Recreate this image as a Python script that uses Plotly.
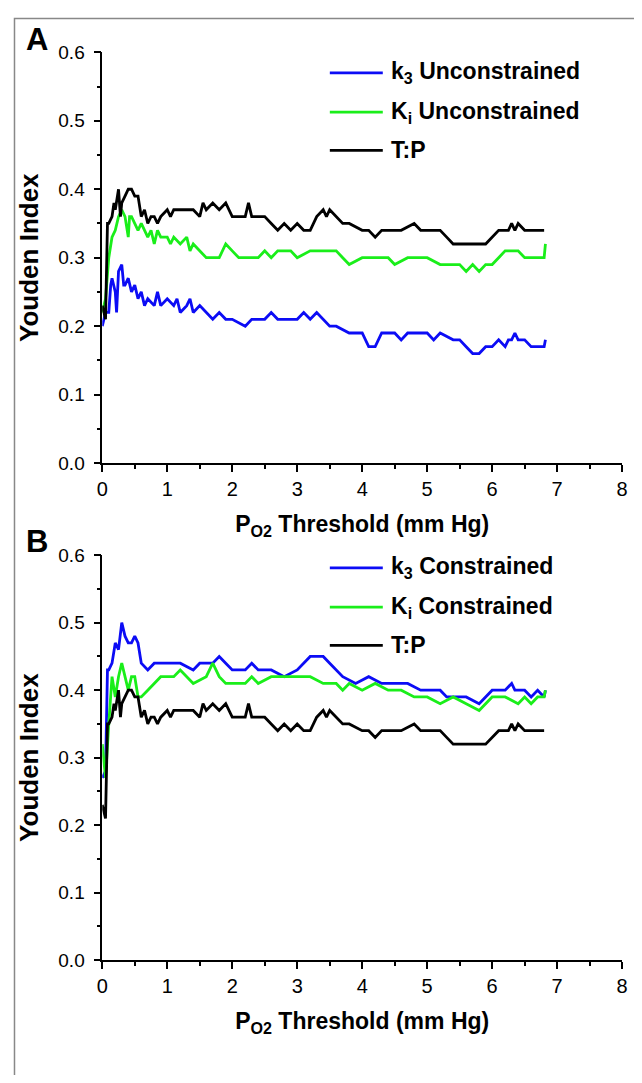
import plotly.graph_objects as go

# ---------------- data ----------------
# Panel A
a_k3_x = [0, 0.05, 0.1, 0.13, 0.15, 0.2, 0.22, 0.25, 0.3, 0.33, 0.35, 0.4, 0.45, 0.5, 0.55, 0.6, 0.65, 0.7, 0.8, 0.85,
          0.9, 1.0, 1.1, 1.15, 1.2, 1.3, 1.35, 1.4, 1.5, 1.6, 1.7, 1.8, 1.9, 2.0, 2.2, 2.3, 2.5, 2.6, 2.7, 2.8, 3.0,
          3.1, 3.2, 3.3, 3.4, 3.5, 3.6, 3.8, 4.0, 4.1, 4.2, 4.3, 4.5, 4.6, 4.7, 4.8, 5.0, 5.1, 5.2, 5.4, 5.5, 5.6,
          5.7, 5.8, 5.9, 6.0, 6.1, 6.2, 6.25, 6.3, 6.35, 6.4, 6.5, 6.6, 6.8, 6.82]
a_k3_y = [0.20, 0.22, 0.22, 0.26, 0.27, 0.25, 0.22, 0.28, 0.29, 0.26, 0.26, 0.27, 0.25, 0.26, 0.24, 0.25, 0.23, 0.24, 0.23, 0.25,
          0.23, 0.24, 0.23, 0.24, 0.22, 0.23, 0.24, 0.22, 0.23, 0.22, 0.21, 0.22, 0.21, 0.21, 0.20, 0.21, 0.21, 0.22, 0.21, 0.21, 0.21,
          0.22, 0.21, 0.22, 0.21, 0.20, 0.20, 0.19, 0.19, 0.17, 0.17, 0.19, 0.19, 0.18, 0.19, 0.19, 0.19, 0.18, 0.19, 0.18, 0.18, 0.17,
          0.16, 0.16, 0.17, 0.17, 0.18, 0.17, 0.18, 0.18, 0.19, 0.18, 0.18, 0.17, 0.17, 0.18]

a_ki_x = [0, 0.05, 0.1, 0.15, 0.2, 0.25, 0.3, 0.35, 0.4, 0.42, 0.45, 0.5, 0.55, 0.6, 0.7, 0.75, 0.8, 0.85, 0.9, 1.0,
          1.05, 1.1, 1.2, 1.3, 1.35, 1.4, 1.5, 1.6, 1.8, 1.9, 2.0, 2.1, 2.4, 2.5, 2.6, 2.7, 2.9, 3.0, 3.2, 3.6, 3.7,
          3.8, 4.0, 4.4, 4.5, 4.7, 5.0, 5.2, 5.5, 5.6, 5.7, 5.8, 5.9, 6.0, 6.1, 6.2, 6.4, 6.5, 6.8, 6.82]
a_ki_y = [0.22, 0.24, 0.30, 0.33, 0.34, 0.36, 0.37, 0.36, 0.33, 0.36, 0.36, 0.35, 0.34, 0.35, 0.33, 0.34, 0.32, 0.34, 0.33, 0.33,
          0.32, 0.33, 0.32, 0.33, 0.31, 0.32, 0.31, 0.30, 0.30, 0.32, 0.31, 0.30, 0.30, 0.31, 0.30, 0.31, 0.31, 0.30, 0.31, 0.31, 0.30,
          0.29, 0.30, 0.30, 0.29, 0.30, 0.30, 0.29, 0.29, 0.28, 0.29, 0.28, 0.29, 0.29, 0.30, 0.31, 0.31, 0.30, 0.30, 0.32]

tp_x = [0, 0.03, 0.05, 0.08, 0.1, 0.15, 0.18, 0.2, 0.25, 0.28, 0.3, 0.35, 0.4, 0.45, 0.5, 0.55, 0.6, 0.65, 0.7, 0.75,
        0.8, 0.85, 0.9, 1.0, 1.05, 1.1, 1.2, 1.3, 1.4, 1.5, 1.55, 1.6, 1.7, 1.8, 1.9, 2.0, 2.2, 2.25, 2.3, 2.4, 2.5,
        2.6, 2.7, 2.8, 2.9, 3.0, 3.1, 3.2, 3.3, 3.4, 3.45, 3.5, 3.6, 3.7, 3.8, 4.0, 4.1, 4.2, 4.3, 4.6, 4.8, 4.9,
        5.0, 5.2, 5.3, 5.4, 5.9, 6.0, 6.1, 6.25, 6.3, 6.35, 6.4, 6.5, 6.8]
tp_y = [0.23, 0.22, 0.21, 0.35, 0.35, 0.36, 0.38, 0.37, 0.40, 0.36, 0.38, 0.39, 0.40, 0.40, 0.39, 0.39, 0.36, 0.37, 0.35, 0.36,
        0.36, 0.35, 0.36, 0.37, 0.36, 0.37, 0.37, 0.37, 0.37, 0.36, 0.38, 0.37, 0.38, 0.37, 0.38, 0.36, 0.36, 0.38, 0.36, 0.36, 0.36,
        0.35, 0.34, 0.35, 0.34, 0.35, 0.34, 0.34, 0.36, 0.37, 0.36, 0.37, 0.36, 0.35, 0.35, 0.34, 0.34, 0.33, 0.34, 0.34, 0.35, 0.34,
        0.34, 0.34, 0.33, 0.32, 0.32, 0.33, 0.34, 0.34, 0.35, 0.34, 0.35, 0.34, 0.34]

# Panel B
b_k3_x = [0, 0.05, 0.08, 0.1, 0.15, 0.2, 0.25, 0.3, 0.35, 0.4, 0.45, 0.5, 0.55, 0.6, 0.7, 0.8, 0.9, 1.0, 1.2, 1.4,
          1.5, 1.7, 1.8, 1.9, 2.0, 2.2, 2.3, 2.4, 2.6, 2.8, 3.0, 3.2, 3.4, 3.5, 3.7, 3.9, 4.1, 4.3, 4.7, 4.9, 5.2,
          5.3, 5.6, 5.8, 6.0, 6.2, 6.3, 6.35, 6.5, 6.6, 6.7, 6.8, 6.82]
b_k3_y = [0.27, 0.28, 0.43, 0.43, 0.44, 0.47, 0.46, 0.50, 0.48, 0.47, 0.47, 0.48, 0.47, 0.44, 0.43, 0.44, 0.44, 0.44, 0.44, 0.43,
          0.44, 0.44, 0.45, 0.44, 0.43, 0.43, 0.44, 0.43, 0.43, 0.42, 0.43, 0.45, 0.45, 0.44, 0.42, 0.41, 0.42, 0.41, 0.41, 0.40, 0.40,
          0.39, 0.39, 0.38, 0.40, 0.40, 0.41, 0.40, 0.40, 0.39, 0.40, 0.39, 0.40]

b_ki_x = [0, 0.05, 0.1, 0.15, 0.2, 0.25, 0.3, 0.35, 0.4, 0.45, 0.5, 0.55, 0.6, 0.7, 0.8, 0.9, 1.0, 1.1, 1.2, 1.3,
          1.4, 1.6, 1.7, 1.8, 1.9, 2.0, 2.2, 2.3, 2.4, 2.6, 2.8, 3.0, 3.2, 3.4, 3.6, 3.7, 3.8, 4.0, 4.2, 4.4, 4.6,
          4.8, 5.0, 5.2, 5.4, 5.6, 5.8, 6.0, 6.2, 6.4, 6.5, 6.6, 6.7, 6.8, 6.82]
b_ki_y = [0.32, 0.27, 0.35, 0.42, 0.39, 0.42, 0.44, 0.42, 0.40, 0.42, 0.42, 0.39, 0.39, 0.40, 0.41, 0.42, 0.42, 0.42, 0.43, 0.42,
          0.41, 0.42, 0.44, 0.42, 0.41, 0.41, 0.41, 0.42, 0.41, 0.42, 0.42, 0.42, 0.42, 0.41, 0.41, 0.40, 0.41, 0.40, 0.41, 0.40, 0.40,
          0.39, 0.39, 0.38, 0.39, 0.38, 0.37, 0.39, 0.39, 0.38, 0.39, 0.38, 0.39, 0.39, 0.40]

legend_a = ["<b>k<sub>3</sub> Unconstrained</b>", "<b>K<sub>i</sub> Unconstrained</b>", "<b>T:P</b>"]
legend_b = ["<b>k<sub>3</sub> Constrained</b>", "<b>K<sub>i</sub> Constrained</b>", "<b>T:P</b>"]

BLUE = "#0c0cf5"
GREEN = "#1aee1a"
BLACK = "#000000"
FONT = "Liberation Sans, Arial, sans-serif"

# page is offset by the browser's 8px body margin; work in page pixels
OFF = 8
W, H = 642 - 2 * OFF, 1083 - 2 * OFF
def px_x(p): return (p - OFF) / W
def px_y(p): return 1 - (p - OFF) / H

fig = go.Figure()

def add(x, y, name, color, xa, ya):
    fig.add_trace(go.Scatter(x=x, y=y, mode="lines", name=name, showlegend=False,
                             line=dict(color=color, width=2.8), xaxis=xa, yaxis=ya))

add(a_k3_x, a_k3_y, legend_a[0], BLUE, "x", "y")
add(a_ki_x, a_ki_y, legend_a[1], GREEN, "x", "y")
add(tp_x, tp_y, legend_a[2], BLACK, "x", "y")
add(b_k3_x, b_k3_y, legend_b[0], BLUE, "x2", "y2")
add(b_ki_x, b_ki_y, legend_b[1], GREEN, "x2", "y2")
add(tp_x, tp_y, legend_b[2], BLACK, "x2", "y2")

xdom = [px_x(98), px_x(628)]
domA = [px_y(462), px_y(43)]
domB = [px_y(969), px_y(556)]

def xaxis(anchor):
    return dict(domain=xdom, anchor=anchor, range=[0, 8], dtick=1, tick0=0,
                showline=True, linecolor="black", linewidth=1.5,
                ticks="outside", ticklen=7, tickwidth=1.5, tickcolor="black",
                minor=dict(ticks="outside", dtick=0.5, ticklen=4, tickwidth=1.5, tickcolor="black"),
                showgrid=False, zeroline=False,
                tickfont=dict(family=FONT, size=20, color="black"),
                title=dict(text="<b>P<sub>O2</sub> Threshold (mm Hg)</b>",
                           font=dict(family=FONT, size=23, color="black"), standoff=17))

def yaxis(anchor, dom):
    return dict(domain=dom, anchor=anchor, range=[0, 0.6], dtick=0.1, tick0=0, tickformat=".1f",
                showline=True, linecolor="black", linewidth=1.5,
                ticks="outside", ticklen=7, tickwidth=1.5, tickcolor="black",
                minor=dict(ticks="outside", dtick=0.05, ticklen=4, tickwidth=1.5, tickcolor="black"),
                showgrid=False, zeroline=False, ticklabelstandoff=5,
                tickfont=dict(family=FONT, size=19, color="black"),
                title=dict(text="<b>Youden Index</b>", font=dict(family=FONT, size=26, color="black"),
                           standoff=12))

annotations = [
    dict(text="<b>A</b>", x=px_x(18), y=px_y(30), xref="paper", yref="paper",
         showarrow=False, xanchor="left", yanchor="middle", font=dict(family=FONT, size=31, color="black")),
    dict(text="<b>B</b>", x=px_x(18), y=px_y(542), xref="paper", yref="paper",
         showarrow=False, xanchor="left", yanchor="middle", font=dict(family=FONT, size=31, color="black")),
]
shapes = [dict(type="rect", xref="paper", yref="paper", x0=px_x(8.5), x1=1.05, y0=-0.05, y1=px_y(8.5),
               line=dict(color="#888888", width=1.5))]

# manual legends (longer sample lines than Plotly's built-in legend)
LX0, LX1, TX = 330, 384, 390
rows_a = [64, 104, 143]
rows_b = [569, 609, 648]
colors = [BLUE, GREEN, BLACK]
for labels, rows in ((legend_a, rows_a), (legend_b, rows_b)):
    for lab, ry, col in zip(labels, rows, colors):
        shapes.append(dict(type="line", xref="paper", yref="paper",
                           x0=px_x(LX0), x1=px_x(LX1), y0=px_y(ry), y1=px_y(ry),
                           line=dict(color=col, width=2.8)))
        annotations.append(dict(text=lab, x=px_x(TX), y=px_y(ry), xref="paper", yref="paper",
                                showarrow=False, xanchor="left", yanchor="middle",
                                font=dict(family=FONT, size=23, color="black")))

fig.update_layout(
    width=W, height=H,
    margin=dict(l=0, r=0, t=0, b=0),
    paper_bgcolor="white", plot_bgcolor="white",
    showlegend=False,
    xaxis=xaxis("y"), yaxis=yaxis("x", domA),
    xaxis2=xaxis("y2"), yaxis2=yaxis("x2", domB),
    annotations=annotations,
    shapes=shapes,
)

fig.write_html("out.html")
